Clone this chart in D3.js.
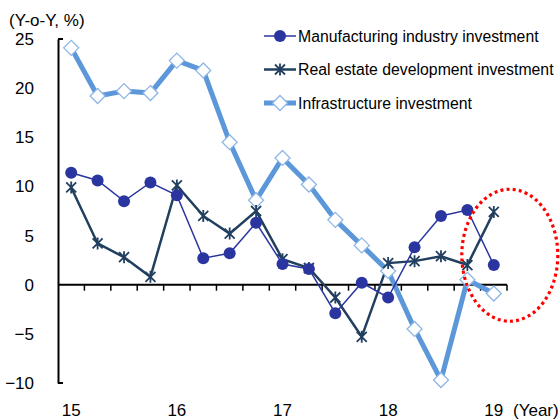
<!DOCTYPE html>
<html>
<head>
<meta charset="utf-8">
<script src="https://cdn.jsdelivr.net/npm/d3@7"></script>
<style>
  html, body { margin: 0; padding: 0; background: #fff; }
  svg { display: block; font-family: "Liberation Sans", Arial, sans-serif; }
</style>
</head>
<body>
<div id="chart"></div>
<script>
// quarters 2015Q1 .. 2019Q1
const quarters = ["15Q1","15Q2","15Q3","15Q4","16Q1","16Q2","16Q3","16Q4",
  "17Q1","17Q2","17Q3","17Q4","18Q1","18Q2","18Q3","18Q4","19Q1"];
const yearLabels = { "15Q1": "15", "16Q1": "16", "17Q1": "17", "18Q1": "18", "19Q1": "19" };
const yTicks = [-10, -5, 0, 5, 10, 15, 20, 25];

const manufacturing = [11.4, 10.6, 8.5, 10.4, 9.1, 2.7, 3.2, 6.3, 2.1, 1.6, -2.9, 0.2, -1.3, 3.8, 7.0, 7.6, 2.0];
const realEstate    = [9.9, 4.2, 2.8, 0.8, 10.1, 7.0, 5.2, 7.5, 2.6, 1.7, -1.3, -5.3, 2.2, 2.4, 2.9, 2.0, 7.4];
const infrastructure = [24.1, 19.2, 19.7, 19.5, 22.8, 21.8, 14.5, 8.6, 12.9, 10.2, 6.6, 4.0, 1.4, -4.5, -9.7, 0.5, -0.9];

const seriesNames = ["Manufacturing industry investment", "Real estate development investment", "Infrastructure investment"];

const W = 560, H = 419;
const m = { t: 39, r: 53, b: 36, l: 58 };
const svg = d3.select("#chart").append("svg").attr("width", W).attr("height", H);

const x = d3.scaleBand().domain(quarters).range([m.l, W - m.r]);
const y = d3.scaleLinear().domain([-10, 25]).range([H - m.b, m.t]);
const cx = d => x(d) + x.bandwidth() / 2;

const C = { man: "#2a35a0", re: "#213f5e", inf: "#5b97d9", infMk: "#8db6e6" };

// y axis
const yAx = svg.append("g").attr("transform", `translate(${m.l},0)`)
  .call(d3.axisLeft(y).tickValues(yTicks).tickSize(0).tickPadding(24));
yAx.select(".domain").attr("stroke", "#000").attr("stroke-width", 2);
yAx.selectAll("text").attr("font-size", 17).attr("fill", "#000")
  .attr("font-family", "Liberation Sans, Arial, sans-serif");
[25, -10].forEach(v => svg.append("line")
  .attr("x1", m.l).attr("x2", m.l + 5).attr("y1", y(v)).attr("y2", y(v))
  .attr("stroke", "#000").attr("stroke-width", 2));

svg.append("text").attr("x", 9).attr("y", 26).attr("font-size", 17).text("(Y-o-Y, %)");

// x axis at y = 0
const xAx = svg.append("g").attr("transform", `translate(0,${y(0)})`);
xAx.append("line").attr("x1", m.l).attr("x2", W - m.r).attr("stroke", "#000").attr("stroke-width", 2);
xAx.selectAll("line.tk").data(quarters.slice(1).concat(["end"])).join("line").attr("class", "tk")
  .attr("x1", d => d === "end" ? W - m.r : x(d)).attr("x2", d => d === "end" ? W - m.r : x(d))
  .attr("y1", 0).attr("y2", 6).attr("stroke", "#000").attr("stroke-width", 1.5);

svg.append("g").selectAll("text").data(quarters.filter(q => yearLabels[q])).join("text")
  .attr("x", d => cx(d)).attr("y", 416).attr("text-anchor", "middle")
  .attr("font-size", 17).text(d => yearLabels[d]);
svg.append("text").attr("x", 513).attr("y", 416).attr("font-size", 17).text("(Year)");

// lines
const line = d3.line().x((d, i) => cx(quarters[i])).y(d => y(d));

svg.append("path").datum(infrastructure).attr("fill", "none")
  .attr("stroke", C.inf).attr("stroke-width", 5).attr("stroke-linejoin", "round").attr("d", line);
svg.append("path").datum(realEstate).attr("fill", "none")
  .attr("stroke", C.re).attr("stroke-width", 2.5).attr("d", line);
svg.append("path").datum(manufacturing).attr("fill", "none")
  .attr("stroke", C.man).attr("stroke-width", 1.5).attr("d", line);

// markers
const diamond = "M0,-7.5L7.5,0L0,7.5L-7.5,0Z";
const star = "M-5,-5L5,5M-5,5L5,-5M0,-6L0,6";

svg.append("g").selectAll("path").data(infrastructure).join("path")
  .attr("transform", (d, i) => `translate(${cx(quarters[i])},${y(d)})`)
  .attr("d", diamond).attr("fill", "#fff").attr("stroke", C.infMk).attr("stroke-width", 1.3);
svg.append("g").selectAll("path").data(realEstate).join("path")
  .attr("transform", (d, i) => `translate(${cx(quarters[i])},${y(d)})`)
  .attr("d", star).attr("fill", "none").attr("stroke", C.re).attr("stroke-width", 1.8);
svg.append("g").selectAll("circle").data(manufacturing).join("circle")
  .attr("cx", (d, i) => cx(quarters[i])).attr("cy", d => y(d)).attr("r", 6).attr("fill", C.man);

// legend
const lg = svg.append("g");
const rows = [
  { name: seriesNames[0], color: C.man, w: 1.5, mk: "circle" },
  { name: seriesNames[1], color: C.re, w: 2.5, mk: "star" },
  { name: seriesNames[2], color: C.inf, w: 5, mk: "diamond" }
];
rows.forEach((r, i) => {
  const yy = 36 + i * 33.5;
  lg.append("line").attr("x1", 264).attr("x2", 296).attr("y1", yy).attr("y2", yy)
    .attr("stroke", r.color).attr("stroke-width", r.w);
  if (r.mk === "circle") lg.append("circle").attr("cx", 280).attr("cy", yy).attr("r", 6).attr("fill", r.color);
  if (r.mk === "star") lg.append("path").attr("transform", `translate(280,${yy})`).attr("d", star)
    .attr("fill", "none").attr("stroke", r.color).attr("stroke-width", 1.8);
  if (r.mk === "diamond") lg.append("path").attr("transform", `translate(280,${yy})`).attr("d", diamond)
    .attr("fill", "#fff").attr("stroke", C.infMk).attr("stroke-width", 1.3);
  lg.append("text").attr("x", 298).attr("y", yy + 5.5).attr("font-size", 15.8).text(r.name);
});

// red dotted highlight around latest quarter
svg.append("ellipse").attr("cx", cx("19Q1") + 16).attr("cy", y(3)).attr("rx", 48).attr("ry", 66)
  .attr("fill", "none").attr("stroke", "#ff0000").attr("stroke-width", 3.2)
  .attr("stroke-dasharray", "3 3.2");
</script>
</body>
</html>
